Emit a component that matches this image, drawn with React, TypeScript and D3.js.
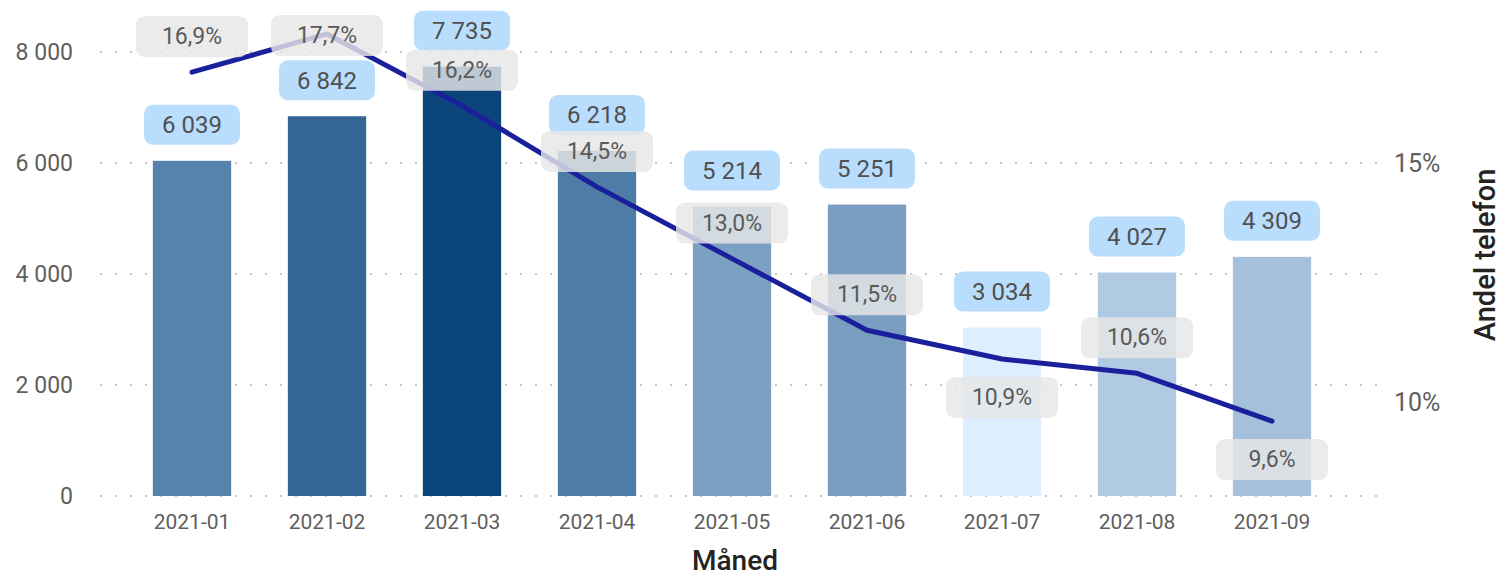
import React from 'react';
import * as d3 from 'd3';

const months = ['2021-01', '2021-02', '2021-03', '2021-04', '2021-05', '2021-06', '2021-07', '2021-08', '2021-09'];
const antall = [6039, 6842, 7735, 6218, 5214, 5251, 3034, 4027, 4309];
const andelTelefon = [16.9, 17.7, 16.2, 14.5, 13.0, 11.5, 10.9, 10.6, 9.6];
const leftTicks = [0, 2000, 4000, 6000, 8000];
const rightTicks = [10, 15];
// labels that Power BI pushed below the line
const pctBelow = ['2021-07', '2021-09'];

const W = 1502;
const H = 578;
const FONT = 'Roboto, "Open Sans", sans-serif';

const locale = d3.formatLocale({ decimal: ',', thousands: '\u00a0', grouping: [3], currency: ['', ''] });
const fmtNum = locale.format(',d');
const fmtPct = (v: number) => locale.format('.1f')(v) + '%';

export default function App() {
  const x = d3.scaleBand().domain(months).range([124.5, 1339.5]).paddingInner(0.42).paddingOuter(0.21);
  const yLeft = d3.scaleLinear().domain([0, 8000]).range([496, 52]);
  const yRight = d3.scaleLinear().domain([8, 18]).range([497.6, 19.6]);
  const color = d3.scaleLinear<string>()
    .domain([d3.min(antall)!, d3.max(antall)!])
    .range(['#ddeeff', '#0b457c'])
    .interpolate(d3.interpolateRgb);

  const line = d3.line<number>()
    .x((d, i) => x(months[i])! + x.bandwidth() / 2)
    .y(d => yRight(d));

  const cx = (m: string) => x(m)! + x.bandwidth() / 2;

  return (
    <svg width={W} height={H} style={{ position: 'absolute', left: 0, top: 0, fontFamily: FONT }}>
      <rect width={W} height={H} fill="#fff" />
      {/* grid */}
      {leftTicks.map(t => (
        <line key={t} x1={100} x2={1380} y1={yLeft(t)} y2={yLeft(t)}
          stroke="#c8c6c4" strokeWidth={2} strokeDasharray="2,13" />
      ))}
      {/* left axis labels */}
      {leftTicks.map(t => (
        <text key={t} x={73} y={yLeft(t)} dy="0.35em" textAnchor="end" fontSize={23} fill="#605e5c">
          {fmtNum(t)}
        </text>
      ))}
      {/* right axis labels */}
      {rightTicks.map(t => (
        <text key={t} x={1394} y={yRight(t)} dy="0.35em" fontSize={25} fill="#605e5c">
          {t}%
        </text>
      ))}
      {/* bars */}
      {antall.map((v, i) => (
        <rect key={months[i]} x={x(months[i])} y={yLeft(v)} width={x.bandwidth()}
          height={yLeft(0) - yLeft(v)} fill={color(v)} />
      ))}
      {/* x labels */}
      {months.map(m => (
        <text key={m} x={cx(m)} y={522} dy="0.35em" textAnchor="middle" fontSize={21} fill="#605e5c">
          {m}
        </text>
      ))}
      {/* line */}
      <path d={line(andelTelefon) || ''} fill="none" stroke="#1a1f9c" strokeWidth={5}
        strokeLinejoin="round" strokeLinecap="round" />
      {/* bar value labels */}
      {antall.map((v, i) => {
        const cy = yLeft(v) - 36;
        return (
          <g key={months[i]} transform={`translate(${cx(months[i])},${cy})`}>
            <rect x={-48} y={-20} width={96} height={40} rx={9} fill="#b9ddfd" />
            <text dy="0.35em" textAnchor="middle" fontSize={24} fill="#505050">{fmtNum(v)}</text>
          </g>
        );
      })}
      {/* percent labels */}
      {andelTelefon.map((v, i) => {
        const m = months[i];
        const below = pctBelow.includes(m);
        const cy = below ? yRight(v) + 38 : Math.max(35, yRight(v) - 36);
        return (
          <g key={m} transform={`translate(${cx(m)},${cy})`}>
            <rect x={-56} y={-20} width={112} height={41} rx={9} fill="#e6e6e6" fillOpacity={0.82} />
            <text dy="0.35em" textAnchor="middle" fontSize={23} fill="#5a5a5a">{fmtPct(v)}</text>
          </g>
        );
      })}
      {/* axis titles */}
      <text x={735} y={560} dy="0.35em" textAnchor="middle" fontSize={28} fontWeight={500} fill="#252423">Måned</text>
      <text transform="translate(1485,255) rotate(-90)" dy="0.35em" textAnchor="middle" fontSize={29}
        fontWeight={500} fill="#252423">
        Andel telefon
      </text>
    </svg>
  );
}
